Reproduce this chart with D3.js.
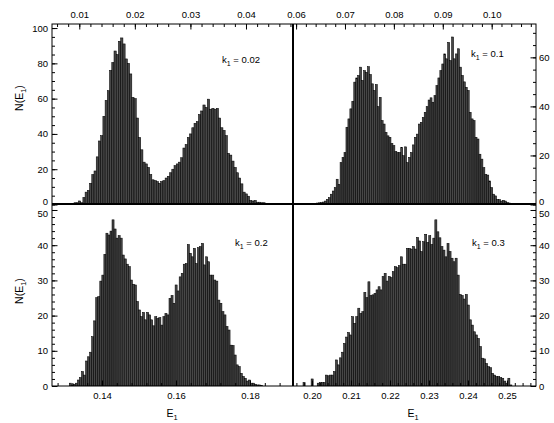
<!DOCTYPE html>
<html>
<head>
<meta charset="utf-8">
<script src="https://cdn.jsdelivr.net/npm/d3@7"></script>
<style>
  html, body { margin: 0; padding: 0; background: #fff; }
  svg { display: block; font-family: "Liberation Sans", Arial, Helvetica, sans-serif; }
</style>
</head>
<body>
<svg id="chart" width="554" height="423"></svg>
<script>
// ---------------- DATA ----------------
const kLabels = ["0.02", "0.1", "0.2", "0.3"];

// left edge of first bin (E1) and bin width for each panel
const binStart = [0.00865, 0.0634, 0.13116, 0.1977];
const binWidth = [0.0004, 0.0004, 0.00055, 0.00052];

// k1 = 0.02
const countsK002 = [0.5, 1, 1, 2, 1, 4, 7, 8, 12, 17, 19, 27, 36, 39, 50, 59, 64.5, 76, 80.5, 87, 85, 92.5, 94.4, 91, 82.5, 80, 74, 60.7, 60, 49, 38, 31, 24, 23, 21, 17, 14, 13.5, 13, 12, 13, 13.5, 15, 16, 18, 20, 22, 23, 24, 26.5, 32, 34, 38, 40, 43.5, 46, 47, 51, 53, 56.4, 55, 59.7, 54, 54.5, 54, 54.5, 49, 43.5, 42, 39, 29, 28, 24.6, 21, 18, 15, 11.7, 7, 6, 4.7, 2.3, 2, 2.3, 1.3, 1.3, 1, 1, 0.5, 0.4];
// k1 = 0.1
const countsK01 = [0.5, 0.5, 0.6, 0.7, 0.8, 1, 1.4, 2.1, 2.8, 4.2, 5.5, 6.9, 10.3, 8.2, 17.1, 19.2, 21.2, 31.5, 34.9, 39, 42.1, 49.9, 51.6, 52.6, 56, 50.6, 54.6, 53.9, 56.2, 53, 49.2, 46.5, 48.9, 39.9, 43.7, 34.2, 32.8, 29.4, 28, 27.4, 24.9, 24, 21.6, 21.2, 21.2, 23.3, 19.9, 23.5, 17.1, 19.2, 21.2, 24.3, 27.4, 28.7, 32.8, 33.5, 35.5, 37.6, 39.9, 42.6, 43.5, 41.7, 44.4, 48.5, 51.6, 54.6, 57.3, 61.4, 59.4, 66.1, 58.7, 68.3, 59.4, 61.4, 63.5, 56, 52.6, 50, 47.8, 46.5, 37.6, 34.9, 34.2, 27.4, 26.7, 20.5, 18.5, 15, 12.3, 12, 9.6, 6.9, 4.2, 3.5, 2.1, 2, 1.4, 1.7, 1.4, 0.8, 0.6, 0.4, 0.5, 0.4];
// k1 = 0.2
const countsK02 = [0.8, 0.3, 0.5, 0.8, 1.7, 2.4, 4.1, 3.1, 7.1, 8.3, 9.6, 14, 18.5, 25.1, 25.4, 29.8, 31.5, 37.4, 43.4, 42.9, 44, 47.2, 44.6, 42, 42.7, 42, 37.2, 36.1, 34.6, 33.9, 30.1, 28.9, 28.7, 24, 21.6, 19.7, 20.9, 18.8, 20.9, 20.2, 18.8, 17.1, 19.7, 19.2, 19.4, 17.3, 19.7, 20.6, 20.2, 24.9, 25.7, 23.5, 28.7, 27, 31, 32, 34.6, 34.8, 40.2, 37.7, 36.7, 39.1, 34.8, 39.3, 39.6, 40.5, 34.4, 36.7, 35.3, 31.5, 31.5, 30.1, 29.8, 24.4, 23.5, 21.1, 20.2, 16.9, 15.9, 11.6, 11.5, 8.8, 6, 5.5, 3.6, 2.7, 2.2, 1.4, 1.7, 0.8, 0.8, 0.5, 0.3, 0.3, 0.2];
// k1 = 0.3
const countsK03 = [1, 0, 0, 0, 2, 0, 0, 0.8, 1, 1, 1, 3.1, 2.9, 3.1, 3.1, 4.1, 7.4, 6, 8, 9.6, 12.1, 13.9, 15.2, 14.5, 19.7, 17.8, 19.7, 22.1, 20.6, 21.1, 26.6, 25.1, 29.6, 25.7, 25.9, 26.3, 27.3, 28.2, 27.3, 31.1, 32, 29.8, 31.1, 30.8, 32.5, 33.9, 33.6, 34.2, 36.7, 34.6, 34.6, 39.1, 39.1, 38.9, 39.6, 38.9, 42.2, 41.2, 38.2, 41, 43.1, 40.8, 42.7, 40.2, 42, 47.2, 43.8, 42.1, 39.6, 38.6, 36.7, 40.5, 38.2, 36.3, 35.3, 36.3, 31.5, 26, 25.7, 24.7, 26, 23, 18.8, 17.3, 15.4, 14.5, 13.5, 11.2, 7.9, 7.7, 6.4, 5.5, 5.2, 3.6, 3.1, 2.7, 2.7, 2.4, 2.2, 1.4, 0.8, 2.2, 0.3];

// axis domains
const xDomains = [[0.00509, 0.04846], [0.05937, 0.10906], [0.12649, 0.19162], [0.19513, 0.25744]];
const yMax = [102.3, 73.6, 51.7, 51.7];

// tick labels / positions
const xMajorTicks = [[0.01, 0.02, 0.03, 0.04], [0.06, 0.07, 0.08, 0.09, 0.10], [0.14, 0.16, 0.18], [0.20, 0.21, 0.22, 0.23, 0.24, 0.25]];
const xMinorStep = [0.002, 0.002, 0.004, 0.002];
const yMajorTicks = [[0, 20, 40, 60, 80, 100], [0, 20, 40, 60], [0, 10, 20, 30, 40, 50], [0, 10, 20, 30, 40, 50]];
const yMinorStep = [5, 5, 2, 2];

// ---------------- LAYOUT ----------------
const L = 52, M = 293, R = 536, T = 24, MY = 204, B = 386;
const boxes = [
  { x0: L, x1: M, y0: T, y1: MY + 0.5, xAxis: "top", yAxis: "left", top: true },
  { x0: M, x1: R, y0: T, y1: MY + 0.5, xAxis: "top", yAxis: "right", top: true },
  { x0: L, x1: M, y0: MY, y1: B, xAxis: "bottom", yAxis: "left", top: false },
  { x0: M, x1: R, y0: MY, y1: B, xAxis: "bottom", yAxis: "right", top: false }
];
const allCounts = [countsK002, countsK01, countsK02, countsK03];

const svg = d3.select("#chart");
const fmt2 = d3.format(".2f");

function range(a, b, s) {
  const out = [];
  const n = Math.round((b - a) / s);
  for (let i = 0; i <= n; i++) out.push(+(a + i * s).toFixed(6));
  return out;
}

boxes.forEach((bx, p) => {
  const xs = d3.scaleLinear().domain(xDomains[p]).range([bx.x0, bx.x1]);
  const ys = d3.scaleLinear().domain([0, yMax[p]]).range([bx.y1, bx.y0]);
  const counts = allCounts[p];

  const clipId = "clip" + p;
  svg.append("clipPath").attr("id", clipId).append("rect")
    .attr("x", bx.x0).attr("y", bx.y0).attr("width", bx.x1 - bx.x0).attr("height", bx.y1 - bx.y0);

  // bars
  svg.append("g").attr("clip-path", `url(#${clipId})`)
    .selectAll("rect").data(counts).join("rect")
    .attr("x", (d, i) => xs(binStart[p] + i * binWidth[p]))
    .attr("width", (d, i) => xs(binStart[p] + (i + 1) * binWidth[p]) - xs(binStart[p] + i * binWidth[p]))
    .attr("y", d => ys(d))
    .attr("height", d => ys(0) - ys(d))
    .attr("fill", "#474747")
    .attr("stroke", "#000")
    .attr("stroke-width", 0.55);

  // x axis (major with labels, minor without)
  const xd = xDomains[p];
  const minorX = range(Math.ceil(xd[0] / xMinorStep[p]) * xMinorStep[p], xd[1], xMinorStep[p])
    .filter(v => v >= xd[0] && v <= xd[1]);
  if (bx.xAxis === "top") {
    svg.append("g").attr("transform", `translate(0,${T})`)
      .call(d3.axisTop(xs).tickValues(minorX).tickSizeInner(-3).tickSizeOuter(0).tickFormat(""));
    svg.append("g").attr("transform", `translate(0,${T})`)
      .call(d3.axisTop(xs).tickValues(xMajorTicks[p]).tickSizeInner(-5.5).tickSizeOuter(0).tickPadding(6.5).tickFormat(fmt2));
  } else {
    svg.append("g").attr("transform", `translate(0,${B})`)
      .call(d3.axisBottom(xs).tickValues(minorX).tickSizeInner(-3).tickSizeOuter(0).tickFormat(""));
    svg.append("g").attr("transform", `translate(0,${B})`)
      .call(d3.axisBottom(xs).tickValues(xMajorTicks[p]).tickSizeInner(-5.5).tickSizeOuter(0).tickPadding(6).tickFormat(fmt2));
  }

  // y axis
  const minorY = range(0, yMax[p], yMinorStep[p]).filter(v => v <= yMax[p]);
  const yPos = bx.yAxis === "left" ? L : R;
  const mkAxis = bx.yAxis === "left" ? d3.axisLeft : d3.axisRight;
  svg.append("g").attr("transform", `translate(${yPos},0)`)
    .call(mkAxis(ys).tickValues(minorY).tickSizeInner(-3).tickSizeOuter(0).tickFormat(""));
  const gMaj = svg.append("g").attr("transform", `translate(${yPos},0)`)
    .call(mkAxis(ys).tickValues(yMajorTicks[p]).tickSizeInner(-5.5).tickSizeOuter(0)
      .tickPadding(bx.yAxis === "left" ? 4 : 3).tickFormat(d3.format("d")));
  // the upper panels' "0" and the lower panels' "50" share the same spot: nudge them apart slightly
  gMaj.selectAll(".tick text").attr("dy", d => {
    if (bx.top && d === 0) return "0em";
    if (!bx.top && d === 50) return "0.71em";
    return "0.32em";
  });

  // k1 annotation
  const kx = [222, 471, 235, 472][p];
  const ky = [63, 57, 246, 246][p];
  const t = svg.append("text").attr("x", kx).attr("y", ky)
    .attr("font-size", 9.5).attr("fill", "#000");
  t.append("tspan").text("k");
  t.append("tspan").attr("font-size", 7).attr("dy", 2.5).text("1");
  t.append("tspan").attr("dy", -2.5).text(" = " + kLabels[p]);
});

// remove axis domain paths (frame drawn separately), style text
svg.selectAll(".domain").remove();
svg.selectAll(".tick line").attr("stroke", "#000").attr("stroke-width", 1);
svg.selectAll(".tick text").attr("font-size", 9.5).attr("fill", "#000")
  .attr("font-family", "'Liberation Sans', Arial, sans-serif");

// frame
const frame = svg.append("g").attr("fill", "none").attr("stroke", "#000");
frame.append("rect").attr("x", L).attr("y", T).attr("width", R - L).attr("height", B - T).attr("stroke-width", 1);
frame.append("line").attr("x1", M).attr("x2", M).attr("y1", T).attr("y2", B).attr("stroke-width", 2);
frame.append("line").attr("x1", L).attr("x2", R).attr("y1", MY).attr("y2", MY).attr("stroke-width", 2);

// axis titles
function titleText(x, y, rotate) {
  return svg.append("text").attr("font-size", 10.5).attr("fill", "#000")
    .attr("text-anchor", "middle")
    .attr("transform", rotate ? `translate(${x},${y}) rotate(-90)` : `translate(${x},${y})`);
}
[98, 291].forEach(cy => {
  const t = titleText(23, cy, true);
  t.append("tspan").text("N(E");
  t.append("tspan").attr("font-size", 7.5).attr("dy", 3).text("1");
  t.append("tspan").attr("dy", -3).text(")");
});
[172, 413].forEach(cx => {
  const t = titleText(cx, 417, false);
  t.append("tspan").text("E");
  t.append("tspan").attr("font-size", 7.5).attr("dy", 2.5).text("1");
});
</script>
</body>
</html>
